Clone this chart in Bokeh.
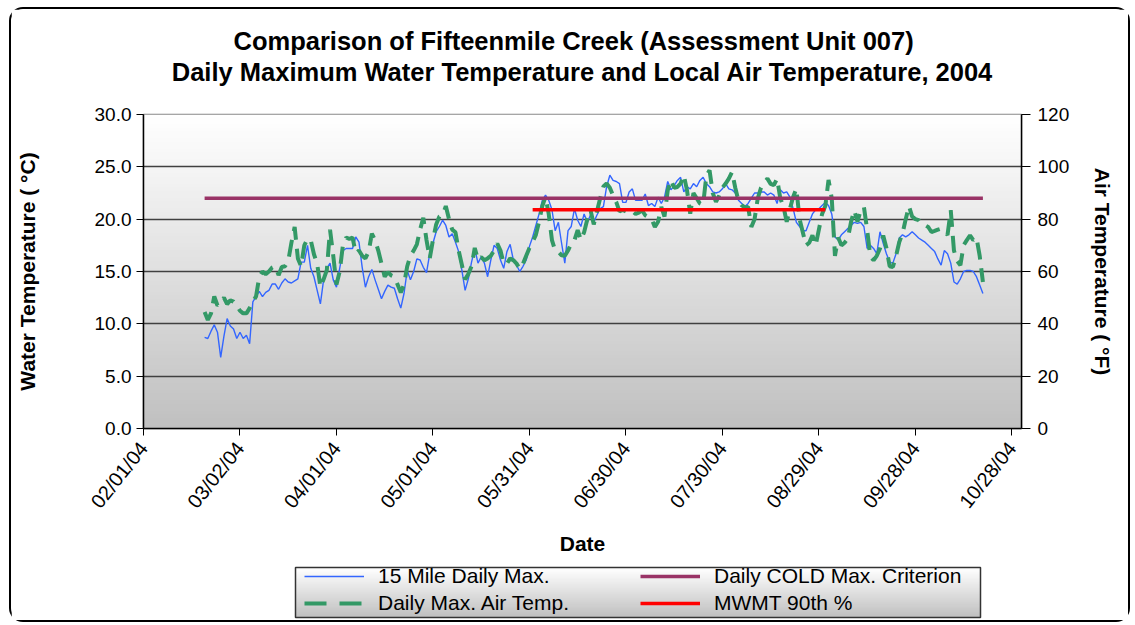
import math
import numpy as np
import pandas as pd
from bokeh.plotting import figure
from bokeh.layouts import column
from bokeh.models import (Range1d, LinearAxis, FixedTicker, DatetimeTickFormatter,
                          NumeralTickFormatter, Legend, LegendItem, Title)
from bokeh.embed import file_html
from bokeh.resources import INLINE

TITLE_1 = "Comparison of Fifteenmile Creek (Assessment Unit 007)"
TITLE_2 = "Daily Maximum Water Temperature and Local Air Temperature, 2004"
X_LABEL = "Date"
Y_LABEL_LEFT = "Water Temperature ( \u00b0C)"
Y_LABEL_RIGHT = "Air Temperature ( \u00b0F)"

FIRST_DAY = "2004-02-20"

# 15 Mile daily maximum water temperature (deg C), one value per day from FIRST_DAY
water_max = [
    8.7, 8.6, 9.3, 9.9, 9.2, 6.8, 8.8, 10.5, 9.8, 9.5,
    8.6, 9.2, 8.6, 8.9, 8.1, 12.1, 12.6, 13.1, 12.6, 13.0,
    13.2, 13.8, 13.8, 13.3, 13.9, 14.3, 14.0, 13.9, 14.1, 14.3,
    15.9, 15.9, 17.5, 15.3, 14.5, 13.2, 11.9, 14.2, 15.3, 15.8,
    14.2, 13.5, 15.3, 17.0, 17.2, 17.2, 17.2, 18.3, 17.8, 15.4,
    13.5, 14.5, 15.2, 14.2, 13.3, 12.4, 13.1, 13.7, 13.5, 13.4,
    12.4, 11.5, 12.9, 15.1, 14.2, 15.0, 16.2, 16.1, 15.4, 14.9,
    16.7, 17.7, 18.8, 19.3, 19.9, 19.4, 18.3, 18.6, 17.8, 16.9,
    15.1, 13.2, 14.3, 15.9, 17.2, 15.8, 16.4, 15.8, 14.5, 16.1,
    17.5, 17.2, 16.1, 15.3, 16.9, 17.6, 16.1, 15.6, 15.0, 15.5,
    16.1, 17.4, 18.3, 19.4, 20.5, 21.8, 22.3, 21.8, 20.9, 18.9,
    19.7, 17.7, 15.8, 18.9, 19.3, 21.0, 19.9, 19.3, 20.5, 19.7,
    20.4, 19.7, 20.4, 21.0, 21.2, 23.1, 24.2, 23.7, 23.6, 23.4,
    21.6, 21.6, 22.6, 22.9, 21.8, 21.8, 21.8, 22.4, 21.3, 21.5,
    21.2, 22.1, 21.5, 22.1, 23.6, 22.8, 23.2, 23.7, 24.0, 22.6,
    23.1, 22.9, 23.4, 23.1, 23.7, 24.0, 23.4, 23.1, 22.6, 22.5,
    22.6, 22.9, 23.4, 22.9, 22.8, 22.5, 21.8, 21.5, 21.2, 21.5,
    22.0, 22.5, 22.5, 22.6, 22.6, 22.3, 22.5, 22.3, 21.5, 22.8,
    22.5, 22.6, 22.1, 21.0, 19.7, 19.3, 18.9, 18.9, 19.7, 20.5,
    20.9, 21.0, 21.3, 21.6, 21.3, 20.5, 18.3, 18.0, 18.5, 18.8,
    19.1, 19.4, 19.7, 19.6, 19.7, 19.3, 17.2, 17.5, 17.2, 16.7,
    18.8, 17.7, 16.7, 15.9, 15.8, 16.7, 18.2, 18.5, 18.3, 18.5,
    18.8, 18.5, 18.2, 18.0, 17.8, 17.5, 17.2, 16.9, 16.2, 15.6,
    17.0, 16.7, 15.8, 14.0, 13.8, 14.3, 15.0, 15.1, 15.1, 15.0,
    14.5, 13.7, 12.9,
]

# Daily maximum air temperature (deg F), same days
air_max = [
    44.5, 41.5, 44, 50.5, 47, 48, 50, 47.5, 49, 48.5,
    47, 45, 44, 44, 46, 48.5, 50.5, 58, 60, 59,
    60, 61.5, 62, 58.6, 61.7, 62, 64, 71, 77, 65,
    62, 70, 72.5, 72, 66.6, 63, 54, 57, 60.5, 76,
    66, 55, 60, 70, 73, 72.5, 73, 67, 68, 66,
    65, 67.5, 74.5, 72, 68, 63, 58, 59.8, 58.5, 58,
    55, 52, 55, 62, 66, 68, 70.4, 76, 80.5, 72,
    65, 72, 78, 81, 81.5, 85, 80, 76, 75, 68,
    62.5, 57, 59, 62, 69, 64.5, 65.5, 64.3, 65, 66,
    68, 70.7, 68, 63, 63, 65, 64.3, 63, 61, 63,
    66, 69, 71.3, 74, 79, 85, 88.5, 82, 72, 68,
    67.5, 66.2, 66, 68, 70.7, 72, 75.8, 72, 75, 80,
    83.4, 78, 83, 88, 92.5, 93.6, 92, 89, 86.5, 83,
    83.5, 83, 82.5, 83, 82, 82.5, 83.4, 81.5, 80.8, 80,
    77, 79, 84.7, 81, 91, 95, 92, 92.3, 93.6, 96.8,
    91, 82.1, 90, 88, 86, 85.5, 96.5, 98.7, 90, 86.6,
    89, 92, 93.6, 95.5, 98, 92, 87, 85.3, 84.5, 84.7,
    77, 80, 88, 92, 94, 95.5, 93.5, 93, 95.5, 88,
    84.7, 79, 84, 88.5, 91.7, 80, 75, 70, 71, 73.8,
    70, 76, 82, 85, 95, 88, 66, 73, 70, 71,
    72.6, 79, 83.4, 79, 83.4, 84.7, 76, 65.6, 64.3, 66,
    68.8, 73.8, 69, 62, 61.7, 66, 71.3, 74.5, 80, 85,
    81, 80, 79.6, 78, 77.7, 77, 75.1, 75.5, 76, 76.4,
    75.1, 74, 83.4, 68, 64, 62.4, 70, 72, 73.8, 72,
    73, 66, 56,
]

cold_dates = ["2004-02-20", "2004-10-19"]
cold_criterion = [22.0, 22.0]
mwmt_dates = ["2004-06-01", "2004-08-31"]
mwmt_90th = [20.9, 20.9]

x_tick_dates = ["2004-02-01", "2004-03-02", "2004-04-01", "2004-05-01", "2004-05-31",
                "2004-06-30", "2004-07-30", "2004-08-29", "2004-09-28", "2004-10-28"]
x_start, x_end = "2004-02-01", "2004-10-31"
left_ticks = [0, 5, 10, 15, 20, 25, 30]
right_ticks = [0, 20, 40, 60, 80, 100, 120]

legend_labels = ["15 Mile Daily Max.", "Daily Max. Air Temp.",
                 "Daily COLD Max. Criterion", "MWMT 90th %"]

FONT = "Liberation Sans"
C_WATER, C_AIR, C_COLD, C_MWMT = "#3366ff", "#339966", "#993366", "#ff0000"


def ms(d):
    return pd.Timestamp(d).value // 10**6


def gradient(n, lo=192, hi=255):
    img = np.zeros((n, 1), dtype=np.uint32)
    v = img.view(dtype=np.uint8).reshape((n, 1, 4))
    for i in range(n):
        g = int(round(lo + (hi - lo) * i / (n - 1)))
        v[i, 0, :] = [g, g, g, 255]
    return img


dates = pd.date_range(FIRST_DAY, periods=len(water_max), freq="D")
cold_x = pd.to_datetime(cold_dates)
mwmt_x = pd.to_datetime(mwmt_dates)

W = 1117
ML, MR = 132, 107          # frame margins shared by both stacked figures

p = figure(width=W, height=551, x_axis_type="datetime",
           x_range=Range1d(ms(x_start), ms(x_end)),
           y_range=Range1d(left_ticks[0], left_ticks[-1]),
           output_backend="svg", toolbar_location=None,
           min_border_left=ML, min_border_right=MR,
           min_border_top=105, min_border_bottom=132,
           background_fill_color="white", border_fill_color="white")
p.extra_y_ranges = {"air": Range1d(right_ticks[0], right_ticks[-1])}

p.image_rgba(image=[gradient(90)], x=ms(x_start), y=left_ticks[0],
             dw=ms(x_end) - ms(x_start), dh=left_ticks[-1] - left_ticks[0],
             level="image")

# titles: a thin spacer nearest the frame, then line 2, then line 1 (p.title)
TSIZE = "25.5px"
p.title.text = TITLE_1
p.title.text_font = FONT
p.title.text_font_size = TSIZE
p.title.text_font_style = "bold"
p.title.text_color = "black"
p.title.align = "left"
p.title.offset = 90
p.title.vertical_align = "middle"
p.title.standoff = 0
p.add_layout(Title(text=" ", text_font_size="1px", standoff=24), "above")
p.add_layout(Title(text=TITLE_2, text_font=FONT, text_font_size=TSIZE,
                   text_font_style="bold", text_color="black", align="center",
                   vertical_align="middle", standoff=2), "above")

# series
p.line(dates, water_max, line_color=C_WATER, line_width=1.4)
p.line(dates, air_max, line_color=C_AIR, line_width=4, line_dash="17 9",
       y_range_name="air")
p.line(cold_x, cold_criterion, line_color=C_COLD, line_width=3.5)
p.line(mwmt_x, mwmt_90th, line_color=C_MWMT, line_width=3.5)

# axes
xa = p.xaxis[0]
xa.ticker = FixedTicker(ticks=[ms(d) for d in x_tick_dates])
fmt = "%m/%d/%y"
xa.formatter = DatetimeTickFormatter(days=fmt, months=fmt, years=fmt, hours=fmt,
                                     hourmin=fmt, minutes=fmt, seconds=fmt,
                                     minsec=fmt, milliseconds=fmt, microseconds=fmt)
xa.major_label_orientation = 0.9
xa.axis_label = X_LABEL

ya = p.yaxis[0]
ya.ticker = FixedTicker(ticks=left_ticks)
ya.formatter = NumeralTickFormatter(format="0.0")
ya.axis_label = Y_LABEL_LEFT
ya.axis_label_standoff = 53

ra = LinearAxis(y_range_name="air", ticker=FixedTicker(ticks=right_ticks),
                axis_label=Y_LABEL_RIGHT, axis_label_standoff=19)
p.add_layout(ra, "right")

for ax in (xa, ya, ra):
    ax.axis_line_color = "black"
    ax.axis_line_width = 1.5
    ax.major_tick_line_color = "black"
    ax.major_tick_out = 7
    ax.major_tick_in = 0
    ax.minor_tick_line_color = None
    ax.major_label_text_font = FONT
    ax.major_label_text_font_size = "19px"
    ax.major_label_text_color = "black"
    ax.axis_label_text_font = FONT
    ax.axis_label_text_font_size = "21px"
    ax.axis_label_text_font_style = "bold"
    ax.axis_label_text_color = "black"
ra.major_tick_out = 9
ra.major_label_standoff = 7
xa.major_label_text_font_size = "20px"
xa.major_label_standoff = 9
xa.axis_label_standoff = 10

p.xgrid.visible = False
p.ygrid.ticker = FixedTicker(ticks=left_ticks)
p.ygrid.grid_line_color = "#404040"
p.ygrid.grid_line_width = 1.3
p.outline_line_color = "#888888"
p.outline_line_width = 1.5

# legend strip below the chart; its frame lines up with the chart frame,
# x/y ranges are in pixels of that strip
FW = W - ML - MR
q = figure(width=W, height=60, x_range=Range1d(0, FW), y_range=Range1d(-2, 52),
           output_backend="svg", toolbar_location=None,
           x_axis_location=None, y_axis_location=None,
           min_border_left=ML, min_border_right=MR,
           min_border_top=5, min_border_bottom=1,
           background_fill_color="white", border_fill_color="white")
q.grid.visible = False
q.outline_line_color = None
BOX_L, BOX_W, BOX_H = 152, 685, 50
q.image_rgba(image=[gradient(40)], x=BOX_L, y=0, dw=BOX_W, dh=BOX_H, level="image")
q.quad(left=BOX_L, right=BOX_L + BOX_W, bottom=0, top=BOX_H,
       fill_color=None, line_color="#333333", line_width=1.5)
# legend keys: the same series, outside this strip's visible range
k_water = q.line(dates, water_max, line_color=C_WATER, line_width=1.4)
k_air = q.line(dates, air_max, line_color=C_AIR, line_width=4, line_dash="22 13")
k_cold = q.line(cold_x, cold_criterion, line_color=C_COLD, line_width=3.5)
k_mwmt = q.line(mwmt_x, mwmt_90th, line_color=C_MWMT, line_width=3.5)

legend = Legend(items=[
    LegendItem(label=legend_labels[0], renderers=[k_water]),
    LegendItem(label=legend_labels[1], renderers=[k_air]),
    LegendItem(label=legend_labels[2], renderers=[k_cold]),
    LegendItem(label=legend_labels[3], renderers=[k_mwmt]),
], orientation="vertical", nrows=2)
legend.location = (BOX_L + 9, 4)
legend.label_text_font = FONT
legend.label_text_font_size = "21px"
legend.label_text_color = "black"
legend.glyph_width = 60
legend.glyph_height = 22
legend.label_height = 22
legend.label_width = 259
legend.label_standoff = 14
legend.spacing = 3
legend.padding = 0
legend.margin = 0
legend.border_line_color = None
legend.background_fill_alpha = 0.0
q.add_layout(legend, "center")

layout = column(p, q, spacing=0)
layout.styles = {"border": "2px solid black", "border-radius": "14px",
                 "margin-left": "9px", "margin-top": "7px"}

open("out.html", "w").write(file_html(layout, INLINE))
